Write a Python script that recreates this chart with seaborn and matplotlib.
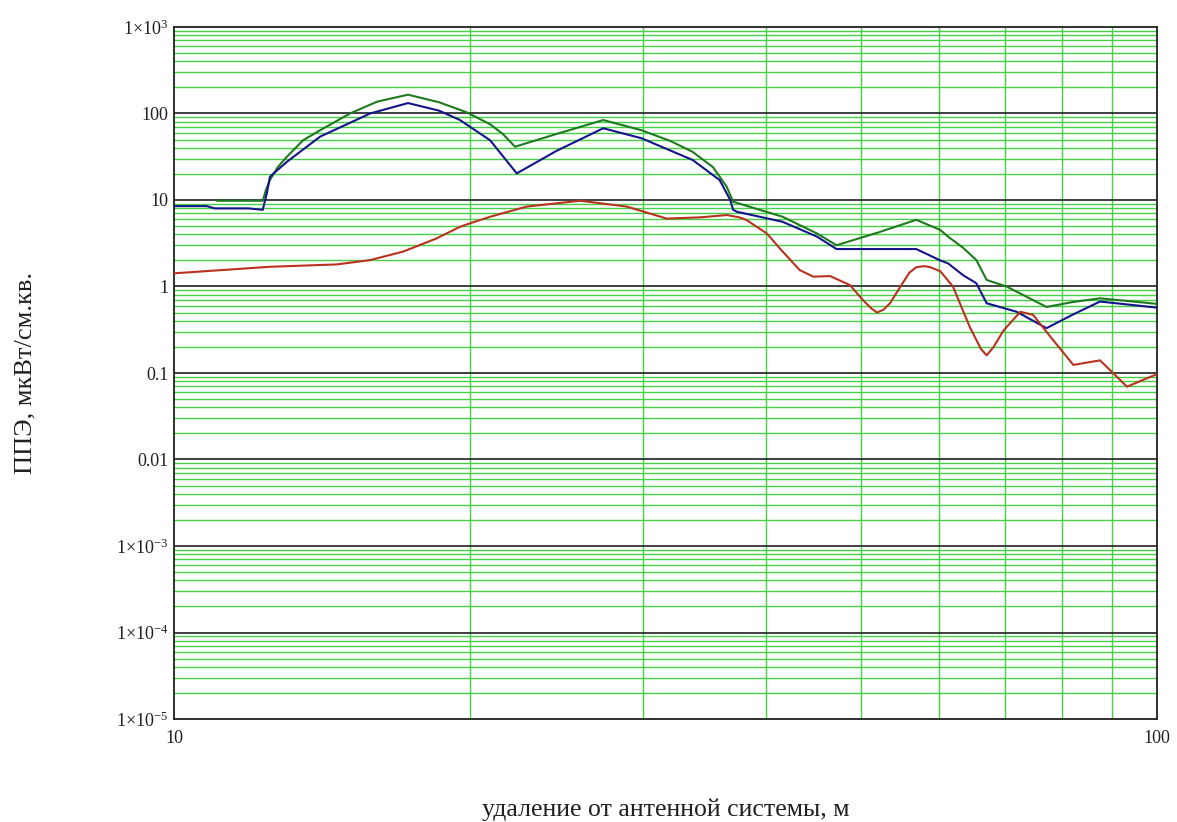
# Power flux density vs distance from antenna, log-log plot in the Mathcad style

import numpy as np
import pandas as pd
import seaborn as sns
import matplotlib
matplotlib.use("Agg")
import matplotlib.pyplot as plt
from matplotlib.ticker import FixedLocator, NullFormatter

# Data
green_x = [11.06, 12.31, 12.4, 12.52, 12.75, 13.03, 13.53, 14.08, 15.1, 16.09, 17.3, 18.6,
           19.86, 20.97, 21.6, 22.23, 24.5, 27.33, 29.9, 32.0, 33.7, 35.34, 36.5, 37.05,
           41.6, 45.1, 47.2, 52.0, 56.9, 60.2, 61.3, 63.5, 65.5, 67.1, 70.3, 77.2, 82.0,
           87.5, 100.0]
green_y = [9.8, 9.8, 13, 17, 24, 31.7, 49, 64, 100, 137, 165, 135,
           103, 75, 58, 41.3, 58, 84, 64, 48, 36, 24, 14.2, 9.55,
           6.4, 4.1, 3.0, 4.2, 5.9, 4.5, 3.77, 2.8, 2.02, 1.19, 1.0, 0.58, 0.66,
           0.73, 0.63]

blue_x = [10.0, 10.8, 11.0, 11.9, 12.31, 12.43, 12.52, 13.03, 14.08, 15.83, 17.3, 18.6,
          19.54, 20.97, 22.32, 24.5, 27.33, 29.9, 33.7, 35.9, 36.8, 37.05, 37.4, 41.6,
          45.1, 47.2, 56.9, 60.2, 61.3, 63.5, 65.5, 67.1, 72.0, 77.2, 82.0, 87.5, 100.0]
blue_y = [8.5, 8.5, 8.0, 8.0, 7.7, 12, 18.6, 27.7, 54, 100, 132, 108,
          84, 49, 20.3, 37, 67.5, 51.7, 29, 17, 10, 7.7, 7.3, 5.6,
          3.77, 2.71, 2.71, 2.0, 1.85, 1.35, 1.09, 0.64, 0.51, 0.33, 0.47, 0.67, 0.57]

red_x = [10.0, 12.52, 14.64, 15.83, 17.1, 18.5, 19.54, 20.0, 20.97, 22.85, 25.9, 28.88,
         31.7, 34.3, 36.5, 37.6, 38.2, 40.1, 41.4, 43.3, 44.7, 46.5, 48.7, 50.2, 51.2,
         51.9, 52.7, 53.5, 55.1, 56.0, 56.9, 58.0, 58.8, 60.2, 62.0, 64.5, 66.2, 67.1,
         68.2, 69.8, 72.6, 74.8, 78.4, 82.2, 87.5, 90.3, 93.2, 96.5, 100.0]
red_y = [1.42, 1.69, 1.80, 2.02, 2.53, 3.6, 4.9, 5.37, 6.4, 8.4, 9.8, 8.4,
         6.1, 6.3, 6.7, 6.3, 5.9, 4.1, 2.7, 1.55, 1.30, 1.32, 1.04, 0.70, 0.56,
         0.50, 0.54, 0.64, 1.09, 1.45, 1.67, 1.72, 1.67, 1.50, 1.0, 0.34, 0.19, 0.16,
         0.20, 0.31, 0.51, 0.47, 0.24, 0.124, 0.14, 0.099, 0.0695, 0.082, 0.097]

y_ticks = [1e-5, 1e-4, 1e-3, 1e-2, 1e-1, 1, 10, 100, 1000]
y_tick_labels = [r"$\mathregular{1{\times}10^{-5}}$", r"$\mathregular{1{\times}10^{-4}}$",
                 r"$\mathregular{1{\times}10^{-3}}$", "0.01", "0.1", "1", "10", "100",
                 r"$\mathregular{1{\times}10^{3}}$"]
x_ticks = [10, 100]
x_tick_labels = ["10", "100"]

sns.set_theme(style="white")
plt.rcParams["font.family"] = ["Liberation Serif", "DejaVu Serif"]
plt.rcParams["mathtext.fontset"] = "custom"
plt.rcParams["mathtext.rm"] = "Liberation Serif"

fig = plt.figure(figsize=(11.77, 8.22), dpi=100)
ax = fig.add_axes([174 / 1177, 1 - 719 / 822, 983 / 1177, 692 / 822])

ax.set_xscale("log")
ax.set_yscale("log")
ax.set_xlim(10, 100)
ax.set_ylim(1e-5, 1e3)

# grid: green minor lines, black major horizontal lines
minor_y = [m * 10.0 ** e for e in range(-5, 3) for m in range(2, 10)]
for v in minor_y:
    ax.axhline(v, color="#45d045", lw=1.0, zorder=1)
for v in range(20, 100, 10):
    ax.axvline(v, color="#45d045", lw=1.0, zorder=1)
for v in y_ticks[1:-1]:
    ax.axhline(v, color="#202020", lw=1.2, zorder=2)

sns.lineplot(x=green_x, y=green_y, color="#1f7a1f", lw=1.5, ax=ax, zorder=3)
sns.lineplot(x=blue_x, y=blue_y, color="#14148c", lw=1.5, ax=ax, zorder=4)
sns.lineplot(x=red_x, y=red_y, color="#b8321e", lw=1.5, ax=ax, zorder=5)

ax.yaxis.set_major_locator(FixedLocator(y_ticks))
ax.set_yticklabels(y_tick_labels)
ax.yaxis.set_minor_formatter(NullFormatter())
ax.xaxis.set_major_locator(FixedLocator(x_ticks))
ax.set_xticklabels(x_tick_labels)
ax.xaxis.set_minor_formatter(NullFormatter())
ax.tick_params(which="both", length=0, labelsize=13, colors="#202020")
ax.tick_params(axis="y", pad=4)
ax.tick_params(axis="x", pad=8)

for s in ax.spines.values():
    s.set_color("#202020")
    s.set_linewidth(1.3)

ax.set_xlabel("удаление от антенной системы, м", fontsize=18.5, color="#202020", va="center")
ax.xaxis.set_label_coords(0.5, -(810 - 719) / 692)
ax.set_ylabel("ППЭ, мкВт/см.кв.", fontsize=19, color="#202020", va="center")
ax.yaxis.set_label_coords((25 - 174) / 983, 0.5)

fig.savefig("out.png", dpi=100, facecolor="white")
